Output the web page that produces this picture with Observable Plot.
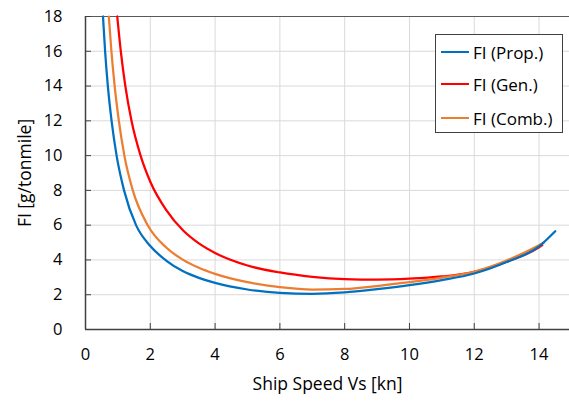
<!DOCTYPE html>
<html>
<head>
<meta charset="utf-8">
<script src="https://cdn.jsdelivr.net/npm/d3@7"></script>
<script src="https://cdn.jsdelivr.net/npm/@observablehq/plot@0.6"></script>
<style>
  html, body { margin: 0; padding: 0; background: #fff; }
  #wrap { position: relative; width: 569px; height: 401px; font-family: "Open Sans", sans-serif; }
  #legend { position: absolute; left: 435px; top: 34px; width: 128px; height: 99px; border: 1px solid #404040; background: #fff; box-sizing: border-box; }
  .row { position: absolute; left: 0; height: 20px; display: flex; align-items: center; font-size: 17px; color: #000; white-space: nowrap; }
  .sw { width: 28px; height: 2.25px; margin-left: 5px; margin-right: 4px; }
</style>
</head>
<body>
<div id="wrap"><div id="legend"></div></div>
<script>
// Series names and colours
const seriesNames = ["FI (Prop.)", "FI (Gen.)", "FI (Comb.)"];
const seriesColors = ["#0070C0", "#FF0000", "#ED7D31"];

// FI (Prop.)
const propX = [0.54, 0.605, 0.69, 0.805, 0.96, 1.19, 1.56, 2.0, 2.5, 3.0, 3.5, 4.0, 5.0, 6.0, 7.0, 8.0, 9.0, 10.0, 11.0, 12.0, 13.0, 14.0, 14.5];
const propY = [18, 16, 14, 12, 10, 8, 6, 4.8, 3.95, 3.36, 2.97, 2.68, 2.3, 2.1, 2.05, 2.13, 2.32, 2.55, 2.84, 3.22, 3.88, 4.78, 5.65];

// FI (Gen.)
const genX = [0.98, 1.09, 1.23, 1.42, 1.70, 2.0, 2.5, 3.0, 3.5, 4.0, 5.0, 6.0, 7.0, 8.0, 9.0, 10.0, 11.0, 12.0, 13.0, 14.0, 14.1];
const genY = [18, 16, 14, 12, 10, 8.5, 6.85, 5.72, 4.95, 4.4, 3.68, 3.28, 3.03, 2.9, 2.87, 2.92, 3.05, 3.32, 3.9, 4.72, 4.85];

// FI (Comb.)
const combX = [0.72, 0.8, 0.9, 1.03, 1.2, 1.46, 1.92, 2.5, 3.0, 3.5, 4.0, 5.0, 6.0, 7.0, 8.0, 9.0, 10.0, 11.0, 12.0, 13.0, 14.0, 14.15];
const combY = [18, 16, 14, 12, 10, 8, 6, 4.7, 4.02, 3.55, 3.2, 2.72, 2.44, 2.3, 2.33, 2.5, 2.72, 2.98, 3.33, 3.97, 4.85, 5.0];

// Ticks
const xTicks = [0, 2, 4, 6, 8, 10, 12, 14];
const yTicks = [0, 2, 4, 6, 8, 10, 12, 14, 16, 18];

const toRows = (xs, ys, name) => xs.map((x, i) => ({x, y: ys[i], series: name}));
const data = [
  ...toRows(propX, propY, seriesNames[0]),
  ...toRows(genX, genY, seriesNames[1]),
  ...toRows(combX, combY, seriesNames[2])
];
const drawOrder = [seriesNames[1], seriesNames[2], seriesNames[0]];

const chart = Plot.plot({
  width: 569,
  height: 401,
  marginLeft: 85,
  marginRight: 0,
  marginTop: 16,
  marginBottom: 72,
  style: {fontFamily: "Open Sans", fontSize: "16.5px", color: "#000", background: "#fff", overflow: "visible"},
  x: {domain: [0, 14.94]},
  y: {domain: [0, 18]},
  color: {domain: seriesNames, range: seriesColors},
  marks: [
    Plot.gridX(xTicks.filter(d => d > 0), {stroke: "#d9d9d9", strokeOpacity: 1, strokeWidth: 1}),
    Plot.gridY(yTicks.filter(d => d > 0 && d < 18), {stroke: "#d9d9d9", strokeOpacity: 1, strokeWidth: 1}),
    Plot.ruleY(yTicks.filter(d => d === 18), {stroke: "#595959", strokeWidth: 1.2}),
    Plot.axisX(xTicks, {tickSize: -6, tickPadding: 25, stroke: "#404040", label: null}),
    Plot.axisX({label: "Ship Speed Vs [kn]", ticks: [], labelAnchor: "center", labelArrow: "none", labelOffset: 60, fontSize: "17.5px"}),
    Plot.axisY(yTicks, {tickSize: -6, tickPadding: 29, stroke: "#404040", label: null}),
    Plot.axisY({label: "FI [g/tonmile]", ticks: [], labelAnchor: "center", labelArrow: "none", labelOffset: 67, fontSize: "17.5px"}),
    Plot.ruleX(xTicks.filter(d => d === 0), {stroke: "#404040", strokeWidth: 1.5}),
    Plot.ruleY(yTicks.filter(d => d === 0), {stroke: "#404040", strokeWidth: 1.5}),
    ...drawOrder.map(name => Plot.line(data.filter(d => d.series === name), {
      x: "x", y: "y", stroke: "series", strokeWidth: 2.25, curve: "monotone-x"
    }))
  ]
});
document.getElementById("wrap").prepend(chart);

// Legend (HTML overlay)
const legend = document.getElementById("legend");
const rowTops = [7, 39, 73];
seriesNames.forEach((name, i) => {
  const row = document.createElement("div");
  row.className = "row";
  row.style.top = rowTops[i] + "px";
  const sw = document.createElement("span");
  sw.className = "sw";
  sw.style.background = seriesColors[i];
  const t = document.createElement("span");
  t.textContent = name;
  row.append(sw, t);
  legend.append(row);
});
</script>
</body>
</html>
